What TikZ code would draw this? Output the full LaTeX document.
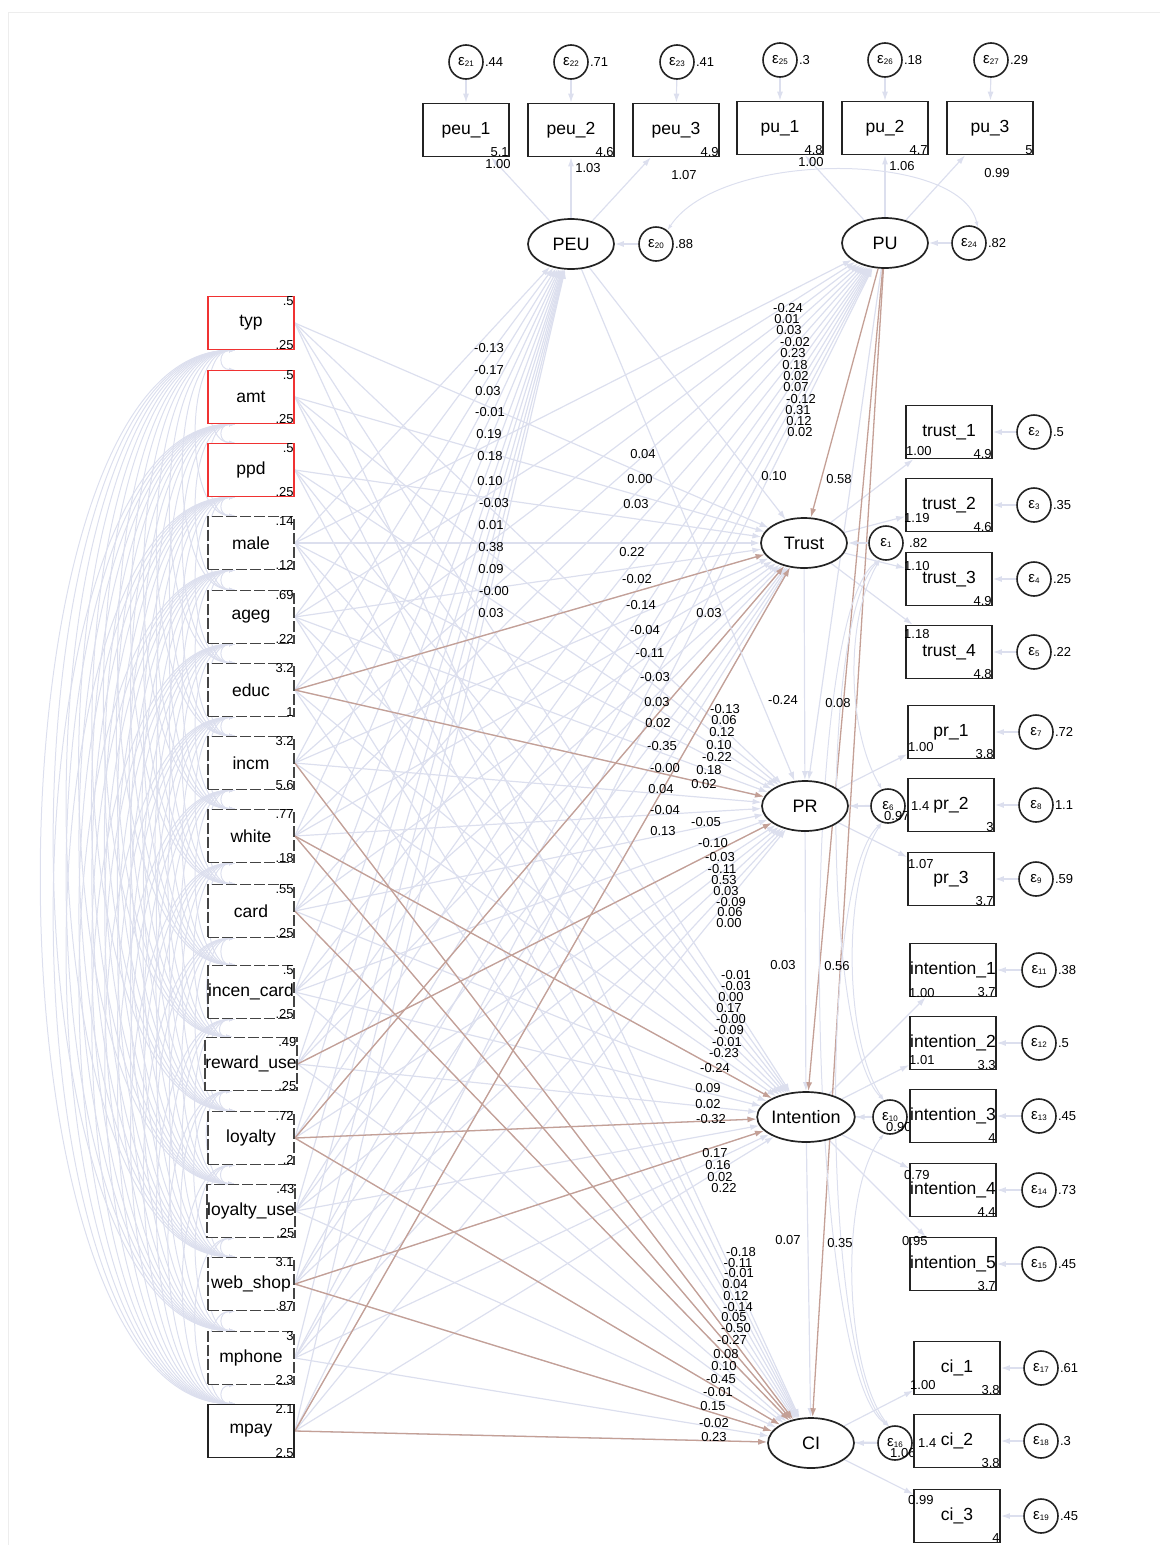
\documentclass[tikz,border=0pt]{standalone}
\usepackage{fontspec}
\setmainfont{Liberation Sans}
\usetikzlibrary{shapes.geometric,arrows.meta,calc}
\definecolor{lav}{RGB}{220,223,238}
\definecolor{brn}{RGB}{196,160,150}
\definecolor{dk}{RGB}{35,35,35}
\definecolor{redb}{RGB}{240,50,50}
\pgfdeclarelayer{bg}
\pgfsetlayers{bg,main}
\newcommand{\eps}[1]{ε\raisebox{-1.5pt}{\fontsize{8}{8}\selectfont #1}}
\begin{document}
\begin{tikzpicture}[x=1pt,y=-1pt,
  box/.style={draw=dk,line width=1.7pt,minimum width=86pt,minimum height=53pt,inner sep=0pt,fill=white,font=\fontsize{17.5}{19}\selectfont},
  boxred/.style={box,draw=redb},
  boxdash/.style={box,draw=dk!85,dash pattern=on 11pt off 3pt},
  lat/.style={ellipse,draw=dk,line width=1.7pt,minimum width=86pt,minimum height=50pt,inner sep=0pt,fill=white,font=\fontsize{18}{19}\selectfont},
  err/.style={circle,draw=dk,line width=1.6pt,minimum size=34pt,inner sep=0pt,fill=white,font=\fontsize{15}{15}\selectfont},
  sm/.style={font=\fontsize{13}{13}\selectfont,inner sep=1pt},
  lbl/.style={font=\fontsize{13}{13}\selectfont,inner sep=0pt},
  pth/.style={draw=lav,line width=1.2pt,-{Latex[length=9pt,width=6pt]}},
  sig/.style={draw=brn,line width=1.3pt,-{Latex[length=9pt,width=6pt]}},
  cov/.style={draw=lav,line width=1pt,{Latex[length=6pt,width=4pt]}-{Latex[length=6pt,width=4pt]}}
]
\useasboundingbox (0,0) rectangle (1167,1545);
\draw[black!7,line width=1pt] (8,1545) -- (8,12) -- (1160,12);

% ---------- left exogenous observed variables
\foreach \n/\t/\y/\m/\v/\s in {1/typ/323/.5/.25/boxred, 2/amt/397/.5/.25/boxred, 3/ppd/470/.5/.25/boxred,
  4/male/543/.14/.12/boxdash, 5/ageg/617/.69/.22/boxdash, 6/educ/690/3.2/1/boxdash, 7/incm/763/3.2/5.6/boxdash,
  8/white/836/.77/.18/boxdash, 9/card/911/.55/.25/boxdash, 10/incen\_card/992/.5/.25/boxdash,
  11/reward\_use/1064/.49/.25/boxdash, 12/loyalty/1138/.72/.2/boxdash, 13/loyalty\_use/1211/.43/.25/boxdash,
  14/web\_shop/1284/3.1/.87/boxdash, 15/mphone/1358/3/2.3/boxdash, 16/mpay/1431/2.1/2.5/box}
{
  \node[\s] (X\n) at (251,\y) {\t};
  \node[sm,anchor=north east] (Xm\n) at (X\n.north east) {\m};
  \node[sm,anchor=south east] (Xv\n) at (X\n.south east) {\v};
}

% ---------- latent variables
\node[lat] (PEU) at (571,244) {PEU};
\node[lat] (PU) at (885,243) {PU};
\node[lat] (Trust) at (804,543) {Trust};
\node[lat] (PR) at (805,806) {PR};
\node[lat] (Int) at (806,1117) {Intention};
\node[lat] (CI) at (811,1443) {CI};

% latent errors
\node[err] (e20) at (656,244) {\eps{20}};
\node[sm,anchor=west] (e20v) at (e20.east) {.88};
\node[err] (e24) at (969,243) {\eps{24}};
\node[sm,anchor=west] (e24v) at (e24.east) {.82};
\node[err] (e1) at (886,543) {\eps{1}};
\node[sm,anchor=west] (e1v) at (908,543) {.82};
\node[err] (e6) at (888,806) {\eps{6}};
\node[sm,anchor=west] (e6v) at (883,816) {0.97};
\node[err] (e10) at (890,1117) {\eps{10}};
\node[sm,anchor=west] (e10v) at (885,1127) {0.90};
\node[err] (e16) at (895,1443) {\eps{16}};
\node[sm,anchor=west] (e16v) at (889,1453) {1.06};

% ---------- top indicators
\foreach \n/\t/\x/\y/\m/\e/\ex/\ey/\ev/\l/\lx/\ly/\lt in {
  peu1/peu\_1/466/130/5.1/21/466/62/.44/1.00/498/164/PEU,
  peu2/peu\_2/571/130/4.6/22/571/62/.71/1.03/588/168/PEU,
  peu3/peu\_3/676/130/4.9/23/677/62/.41/1.07/684/175/PEU,
  pu1/pu\_1/780/128/4.8/25/780/60/.3/1.00/811/162/PU,
  pu2/pu\_2/885/128/4.7/26/885/60/.18/1.06/902/166/PU,
  pu3/pu\_3/990/128/5/27/991/60/.29/0.99/997/173/PU}
{
  \node[box] (\n) at (\x,\y) {\t};
  \node[sm,anchor=south east] (\n m) at (\n.south east) {\m};
  \node[err] (e\e) at (\ex,\ey) {\eps{\e}};
  \node[sm,anchor=west] (e\e v) at (e\e.east) {\ev};
  \node[lbl] (\n l) at (\lx,\ly) {\l};
  \begin{pgfonlayer}{bg}
    \draw[pth] (e\e) -- (\n);
    \draw[pth] (\lt) -- (\n);
  \end{pgfonlayer}
}

% ---------- right indicators
\foreach \n/\t/\x/\y/\m/\l/\lx/\ly/\e/\ex/\ev/\lt in {
  t1/trust\_1/949/432/4.9/1.00/906/451/2/1034/.5/Trust,
  t2/trust\_2/949/505/4.6/1.19/904/518/3/1034/.35/Trust,
  t3/trust\_3/949/579/4.9/1.10/904/566/4/1034/.25/Trust,
  t4/trust\_4/949/652/4.8/1.18/904/634/5/1034/.22/Trust,
  p1/pr\_1/951/732/3.8/1.00/908/747/7/1036/.72/PR,
  p2/pr\_2/951/805/3/1.4/911/806/8/1036/1.1/PR,
  p3/pr\_3/951/879/3.7/1.07/908/864/9/1036/.59/PR,
  i1/intention\_1/953/970/3.7/1.00/909/993/11/1039/.38/Int,
  i2/intention\_2/953/1043/3.3/1.01/909/1060/12/1039/.5/Int,
  i3/intention\_3/953/1116/4/{}/909/1116/13/1039/.45/Int,
  i4/intention\_4/953/1190/4.4/0.79/904/1175/14/1039/.73/Int,
  i5/intention\_5/953/1264/3.7/0.95/902/1241/15/1039/.45/Int,
  c1/ci\_1/957/1368/3.8/1.00/910/1385/17/1041/.61/CI,
  c2/ci\_2/957/1441/3.8/1.4/918/1443/18/1041/.3/CI,
  c3/ci\_3/957/1516/4/0.99/908/1500/19/1041/.45/CI}
{
  \node[box] (\n) at (\x,\y) {\t};
  \node[sm,anchor=south east] (\n m) at (\n.south east) {\m};
  \node[err] (e\e) at (\ex,\y) {\eps{\e}};
  \node[sm,anchor=west] (e\e v) at (e\e.east) {\ev};
  \node[lbl,anchor=west] (\n l) at (\lx,\ly) {\l};
  \begin{pgfonlayer}{bg}
    \draw[pth] (e\e) -- (\n);
    \draw[pth] (\lt) -- (\n);
  \end{pgfonlayer}
}

% ---------- path coefficient labels
\foreach \v/\x/\y [count=\k] in {-0.13/489/348, -0.17/489/370, 0.03/488/391, -0.01/490/412, 0.19/489/434, 0.18/490/456, 0.10/490/481, -0.03/494/503, 0.01/491/525, 0.38/491/547, 0.09/491/569, -0.00/494/591, 0.03/491/613}
  \node[lbl] (LA\k) at (\x,\y) {\v};
\foreach \v/\x/\y [count=\k] in {-0.24/788/308, 0.01/787/319, 0.03/789/330, -0.02/795/342, 0.23/793/353, 0.18/795/365, 0.02/796/376, 0.07/796/387, -0.12/801/399, 0.31/798/410, 0.12/799/421, 0.02/800/432}
  \node[lbl] (LB\k) at (\x,\y) {\v};
\foreach \v/\x/\y [count=\k] in {0.04/643/454, 0.00/640/479, 0.03/636/504, 0.22/632/552, -0.02/637/579, -0.14/641/605, -0.04/645/630, -0.11/650/653, -0.03/655/677, 0.03/657/702, 0.02/658/723, -0.35/662/746, -0.00/665/768, 0.04/661/789, -0.04/665/810, 0.13/663/831}
  \node[lbl] (LC\k) at (\x,\y) {\v};
\foreach \v/\x/\y [count=\k] in {-0.13/725/709, 0.06/724/720, 0.12/722/732, 0.10/719/745, -0.22/717/757, 0.18/709/770, 0.02/704/784, -0.05/706/822, -0.10/713/843, -0.03/720/857, -0.11/722/869, 0.53/724/880, 0.03/726/891, -0.09/731/902, 0.06/730/912, 0.00/729/923}
  \node[lbl] (LD\k) at (\x,\y) {\v};
\foreach \v/\x/\y [count=\k] in {-0.01/736/975, -0.03/736/986, 0.00/731/997, 0.17/729/1008, -0.00/731/1019, -0.09/729/1030, -0.01/727/1042, -0.23/724/1053, -0.24/715/1068, 0.09/708/1088, 0.02/708/1104, -0.32/711/1119, 0.17/715/1153, 0.16/718/1165, 0.02/720/1177, 0.22/724/1188}
  \node[lbl] (LE\k) at (\x,\y) {\v};
\foreach \v/\x/\y [count=\k] in {-0.18/741/1252, -0.11/738/1263, -0.01/739/1273, 0.04/735/1284, 0.12/736/1296, -0.14/738/1307, 0.05/734/1317, -0.50/736/1328, -0.27/732/1340, 0.08/726/1354, 0.10/724/1366, -0.45/721/1379, -0.01/718/1392, 0.15/713/1406, -0.02/714/1423, 0.23/714/1437}
  \node[lbl] (LF\k) at (\x,\y) {\v};
\foreach \v/\x/\y [count=\k] in {0.10/774/476, 0.58/839/479, 0.03/709/613, -0.24/783/700, 0.08/838/703, 0.03/783/965, 0.56/837/966, 0.07/788/1240, 0.35/840/1243}
  \node[lbl] (LG\k) at (\x,\y) {\v};

% ---------- connectors (background layer)
\begin{pgfonlayer}{bg}
  % covariances among exogenous variables
  \foreach \i in {1,...,15} {
    \pgfmathtruncatemacro\ii{\i+1}
    \foreach \j in {\ii,...,16} {
      \pgfmathsetmacro\d{(\j-\i)*73.2*0.235}
      \draw[cov] ($(X\i.south west)+(28,0)$) .. controls ($(X\i.south west)+(28-\d,0)$) and ($(X\j.north west)+(28-\d,0)$) .. ($(X\j.north west)+(28,0)$);
    }
  }
  % structural paths from exogenous variables
  \foreach \i in {4,...,16} {
    \draw[pth] (X\i.east) -- (PEU);
    \draw[pth] (X\i.east) -- (PU);
  }
  \foreach \i in {1,...,16} {
    \foreach \t in {Trust,PR,Int,CI} {
      \draw[pth] (X\i.east) -- (\t);
    }
  }
  \foreach \i/\t in {6/Trust,6/PR,7/CI,8/Int,8/CI,9/CI,11/PR,12/Trust,12/Int,12/CI,14/Int,14/CI,16/Trust,16/CI}
    \draw[sig] (X\i.east) -- (\t);
  % latent structural paths
  \draw[pth] (PEU) -- (Trust);
  \draw[pth] (PEU) -- (PR);
  \draw[pth] (Trust) -- (PR);
  \draw[pth] (PU) -- (PR);
  \draw[pth] (PR) -- (Int);
  \draw[pth] (Int) -- (CI);
  \draw[sig] (PU) -- (Trust);
  \draw[sig] (PU) -- (Int);
  \draw[sig] (PU) -- (CI);
  % latent errors
  \draw[pth] (e20) -- (PEU);
  \draw[pth] (e24) -- (PU);
  \draw[pth] (e1) -- (Trust);
  \draw[pth] (e6) -- (PR);
  \draw[pth] (e10) -- (Int);
  \draw[pth] (e16) -- (CI);
  \draw[cov] (e20.50) .. controls (720,150) and (960,150) .. (e24.60);
  % covariances among latent errors
  \foreach \a/\b/\k in {e1/e6/35, e6/e10/40, e10/e16/45, e1/e10/60, e6/e16/65, e1/e16/85}
    \draw[cov] (\a.250) .. controls +(-\k,60) and +(-\k,-60) .. (\b.110);
\end{pgfonlayer}
\end{tikzpicture}
\end{document}
